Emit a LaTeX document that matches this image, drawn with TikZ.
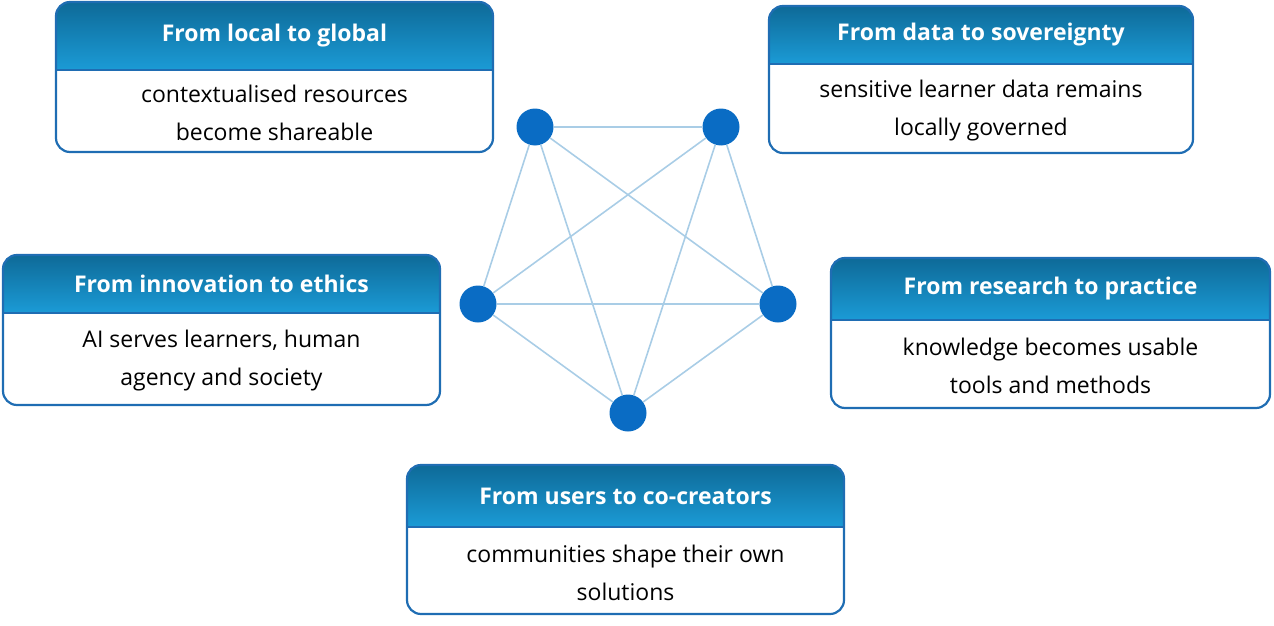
\documentclass[tikz,border=0pt]{standalone}
\usepackage{fontspec}
\setmainfont{Open Sans}
\begin{document}
\begin{tikzpicture}[x=1pt,y=-1pt,
  bd/.style={draw=bordc,line width=2.2pt,rounded corners=14pt},
  ttl/.style={text=white,font=\fontsize{23}{26}\selectfont\bfseries},
  bdy/.style={text=black,font=\fontsize{23}{38}\selectfont,align=center},
  dot/.style={circle,fill=dotc,minimum size=37pt,inner sep=0pt},
  edge/.style={draw=edgec,line width=1.6pt}]
\definecolor{bordc}{HTML}{1F6DB3}
\definecolor{hdtop}{HTML}{0E6A98}
\definecolor{hdbot}{HTML}{1B9BD6}
\definecolor{dotc}{HTML}{0A6CC4}
\definecolor{edgec}{HTML}{A9CDE6}
\useasboundingbox (0,0) rectangle (1274,626);
\newcommand{\panel}[8]{%
  \begin{scope}
  \clip[rounded corners=14pt] (#1,#2) rectangle (#3,#4);
  \shade[top color=hdtop,bottom color=hdbot] (#1,#2) rectangle (#3,#5);
  \end{scope}
  \draw[bordc,line width=1.5pt] (#1,#5) -- (#3,#5);
  \draw[bd] (#1,#2) rectangle (#3,#4);
  \node[ttl] (#6t) at ({(#1+#3)/2},{(#2+#5)/2}) {#7};
  \node[bdy] (#6b) at ({(#1+#3)/2},{(#5+#4)/2+2}) {#8};}
\panel{56}{2}{493}{152}{70}{a}{From local to global}{contextualised resources\\become shareable}
\panel{769}{6}{1193}{153}{64}{b}{From data to sovereignty}{sensitive learner data remains\\locally governed}
\panel{3}{255}{440}{405}{313}{c}{From innovation to ethics}{AI serves learners, human\\agency and society}
\panel{831}{258}{1270}{408}{320}{d}{From research to practice}{knowledge becomes usable\\tools and methods}
\panel{407}{465}{844}{614}{527}{e}{From users to co-creators}{communities shape their own\\solutions}
\node[dot] (p1) at (535,127) {};
\node[dot] (p2) at (721,127) {};
\node[dot] (p3) at (478,304) {};
\node[dot] (p4) at (778,304) {};
\node[dot] (p5) at (628,413) {};
\begin{scope}[on background layer/.style={}]
\foreach \u/\v in {p1/p2,p1/p3,p1/p4,p1/p5,p2/p3,p2/p4,p2/p5,p3/p4,p3/p5,p4/p5}
  \draw[edge] (\u) -- (\v);
\end{scope}
\end{tikzpicture}
\end{document}
